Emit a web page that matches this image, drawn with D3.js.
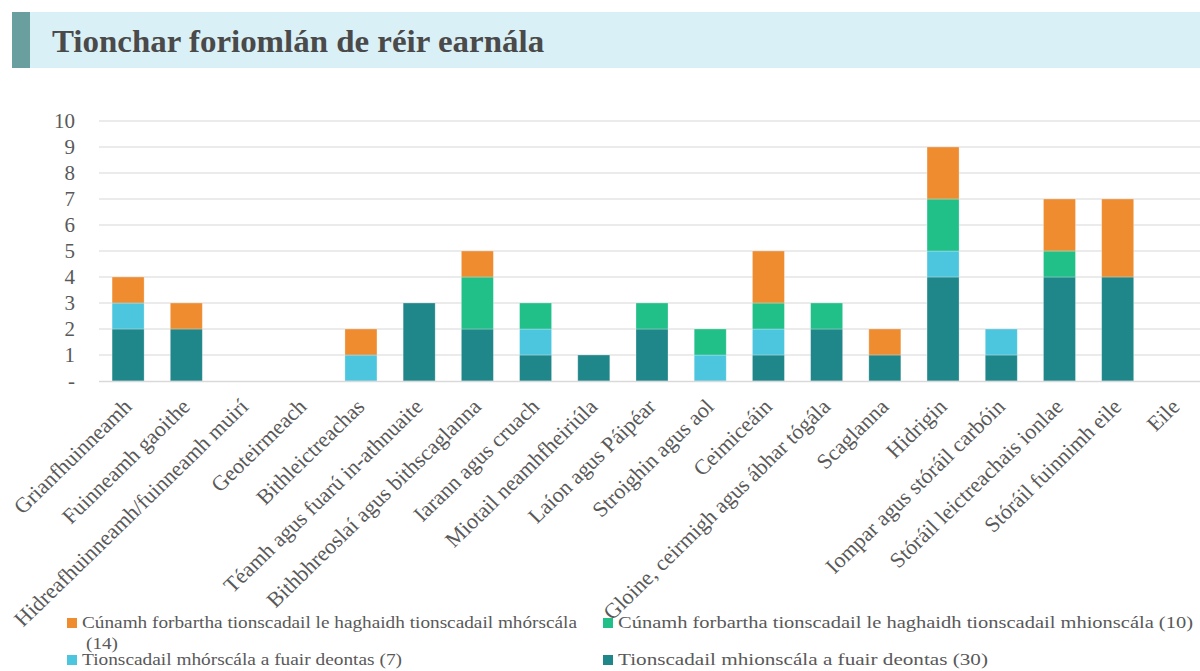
<!DOCTYPE html>
<html>
<head>
<meta charset="utf-8">
<script src="https://cdn.jsdelivr.net/npm/d3@7"></script>
<style>
	body { margin: 0; background: #fff; }
	svg { display: block; }
</style>
</head>
<body>
<svg id="chart" width="1200" height="671"></svg>
<script>
// categories along x
const sectors = [
	'Grianfhuinneamh', 'Fuinneamh gaoithe', 'Hidreafhuinneamh/fuinneamh muirí', 'Geoteirmeach',
	'Bithleictreachas', 'Téamh agus fuarú in-athnuaite', 'Bithbhreoslaí agus bithscaglanna',
	'Iarann agus cruach', 'Miotail neamhfheiriúla', 'Laíon agus Páipéar', 'Stroighin agus aol',
	'Ceimiceáin', 'Gloine, ceirmigh agus ábhar tógála', 'Scaglanna', 'Hidrigin',
	'Iompar agus stóráil carbóin', 'Stóráil leictreachais ionlae', 'Stóráil fuinnimh eile', 'Eile'
];

// series, bottom of stack first
const smallGrants = [2, 2, 0, 0, 0, 3, 2, 1, 1, 2, 0, 1, 2, 1, 4, 1, 4, 4, 0];
const largeGrants = [1, 0, 0, 0, 1, 0, 0, 1, 0, 0, 1, 1, 0, 0, 1, 1, 0, 0, 0];
const smallAid    = [0, 0, 0, 0, 0, 0, 2, 1, 0, 1, 1, 1, 1, 0, 2, 0, 1, 0, 0];
const largeAid    = [1, 1, 0, 0, 1, 0, 1, 0, 0, 0, 0, 2, 0, 1, 2, 0, 2, 3, 0];

const seriesNames = [
	'Tionscadail mhionscála a fuair deontas (30)',
	'Tionscadail mhórscála a fuair deontas (7)',
	'Cúnamh forbartha tionscadail le haghaidh tionscadail mhionscála (10)',
	'Cúnamh forbartha tionscadail le haghaidh tionscadail mhórscála (14)'
];
const yTicks = [0, 1, 2, 3, 4, 5, 6, 7, 8, 9, 10];

const colors = ['#1f868a', '#4cc5de', '#20c088', '#ef8c30'];
const textColor = '#595959';
const serif = '"Liberation Serif", "Times New Roman", serif';

const svg = d3.select('#chart');

// title bar
svg.append('rect').attr('x', 12).attr('y', 12).attr('width', 1188).attr('height', 56).attr('fill', '#daf0f7');
svg.append('rect').attr('x', 12).attr('y', 12).attr('width', 18).attr('height', 56).attr('fill', '#6a9fa0');
svg.append('text')
	.attr('transform', 'translate(52,52) scale(1.08,1)')
	.attr('font-family', serif).attr('font-weight', 'bold').attr('font-size', '30.5px')
	.attr('fill', '#4a4a4a')
	.text('Tionchar foriomlán de réir earnála');

// build stacked table
let table = sectors.map((s, i) => ({
	sector: s, s0: smallGrants[i], s1: largeGrants[i], s2: smallAid[i], s3: largeAid[i]
}));
let keys = ['s0', 's1', 's2', 's3'];
let stacked = d3.stack().keys(keys)(table);

let x = d3.scaleBand().domain(sectors).range([99, 1205]).paddingInner(0.45).paddingOuter(0.225);
let y = d3.scaleLinear().domain([0, 10]).range([381, 121]);

// grid
svg.append('g').selectAll('line').data(yTicks.slice(1)).join('line')
	.attr('x1', 99).attr('x2', 1200)
	.attr('y1', d => y(d)).attr('y2', d => y(d))
	.attr('stroke', '#e4e4e4').attr('stroke-width', 1.3);

// y axis labels
let yAxis = svg.append('g').attr('transform', 'translate(99,0)')
	.call(d3.axisLeft(y).tickValues(yTicks).tickSize(0).tickPadding(24)
		.tickFormat(d => d === 0 ? '-' : d));
yAxis.select('.domain').remove();
yAxis.selectAll('text')
	.attr('font-family', serif).attr('font-size', '21px').attr('fill', textColor);

// bars
svg.append('g').selectAll('g').data(stacked).join('g')
	.attr('fill', (d, i) => colors[i])
	.selectAll('rect').data(d => d.filter(v => v[1] > v[0])).join('rect')
	.attr('x', d => x(d.data.sector))
	.attr('y', d => y(d[1]))
	.attr('width', x.bandwidth())
	.attr('height', d => y(d[0]) - y(d[1]))
	.attr('stroke', '#ffffff').attr('stroke-opacity', 0.35).attr('stroke-width', 0.8);

// baseline
svg.append('line').attr('x1', 99).attr('x2', 1200).attr('y1', 381.5).attr('y2', 381.5)
	.attr('stroke', '#d9d9d9').attr('stroke-width', 1.3);

// x labels
let xAxis = svg.append('g').attr('transform', 'translate(0,381)')
	.call(d3.axisBottom(x).tickSize(0).tickPadding(0));
xAxis.select('.domain').remove();
xAxis.selectAll('text')
	.attr('font-family', serif).attr('font-size', '21.5px').attr('fill', textColor)
	.attr('text-anchor', 'end')
	.attr('dy', null).attr('y', 0)
	.attr('transform', 'translate(5,27) scale(1.03,1) rotate(-45)');

// legend (w = rendered width of the first line)
let legendItems = [
	{i: 3, x: 67, y: 628, w: 495, lines: ['Cúnamh forbartha tionscadail le haghaidh tionscadail mhórscála', '(14)']},
	{i: 2, x: 603, y: 628, w: 575, lines: [seriesNames[2]]},
	{i: 1, x: 67, y: 665, w: 320, lines: [seriesNames[1]]},
	{i: 0, x: 603, y: 665, w: 370, lines: [seriesNames[0]]}
];
let legend = svg.append('g').selectAll('g').data(legendItems).join('g')
	.attr('transform', d => `translate(${d.x},${d.y})`);
legend.append('rect').attr('x', 0).attr('y', -10).attr('width', 10).attr('height', 10)
	.attr('fill', d => colors[d.i]);
legend.each(function(item){
	let t = d3.select(this).append('text')
		.attr('font-family', serif).attr('font-size', '17.5px').attr('fill', textColor);
	item.lines.forEach((line, k) => {
		let ts = t.append('tspan')
			.attr('x', k === 0 ? 15 : 19)
			.attr('y', k * 21)
			.text(line);
		ts.attr('textLength', k === 0 ? item.w : 32).attr('lengthAdjust', 'spacingAndGlyphs');
	});
});
</script>
</body>
</html>
